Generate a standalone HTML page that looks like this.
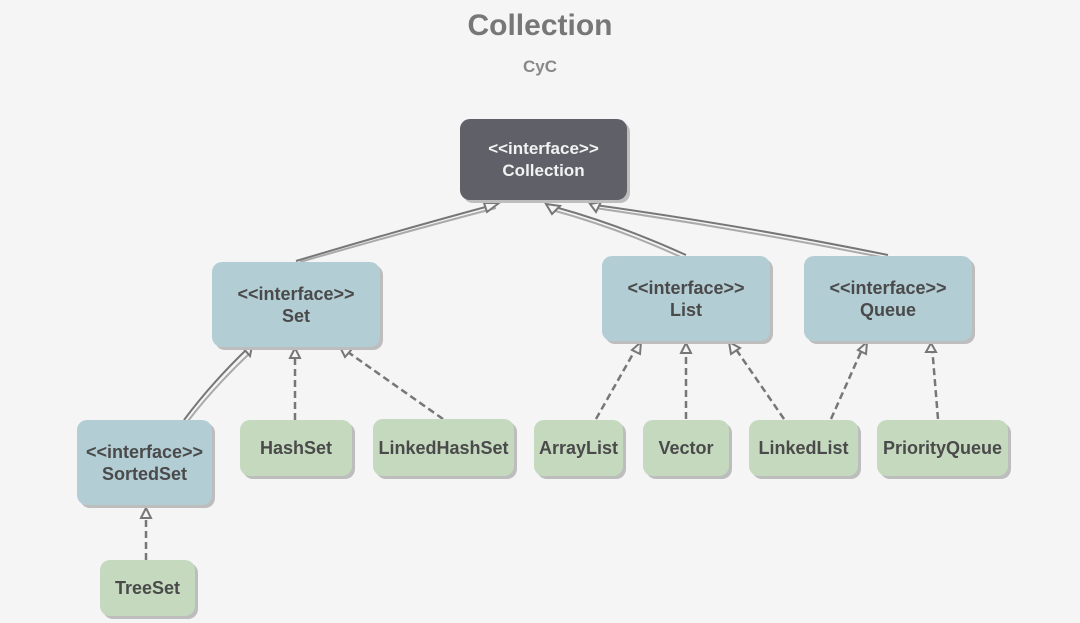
<!DOCTYPE html>
<html><head><meta charset="utf-8"><style>
body{margin:0;width:1080px;height:623px;background:#f5f5f5;position:relative;overflow:hidden;font-family:"Liberation Sans","DejaVu Sans",sans-serif}
.b{position:absolute;border-radius:10px;display:flex;align-items:center;justify-content:center;text-align:center;font-weight:bold;font-size:18px;color:#4a4a4a;box-shadow:3px 3px 0 #bdbdbd;line-height:22px;box-sizing:border-box}
.i{background:#b3cdd4}.g{background:#c5d9bf}.d{background:#5f6068;color:#f2f2f2;font-size:17px}
.t{position:absolute;width:1080px;text-align:center;color:#777;font-weight:bold}
</style></head><body>
<div class="t" style="top:9px;font-size:30px">Collection</div>
<div class="t" style="top:57px;font-size:17px;color:#888">CyC</div>
<svg width="1080" height="623" style="position:absolute;left:0;top:0">
<g fill="none" stroke="#777" stroke-width="2">
<path d="M296 261 Q400 230 493 205"/><path d="M300 262 Q404 232 496 208" stroke="#aaa"/>
<path d="M686 255 Q620 225 555 207"/><path d="M683 258 Q618 228 552 210" stroke="#aaa"/>
<path d="M888 255 Q740 225 595 205"/><path d="M886 258 Q740 229 595 208" stroke="#aaa"/>
<path d="M184 420 Q210 385 246 350"/><path d="M188 421 Q214 387 250 353" stroke="#aaa"/>
<g stroke-dasharray="7,4" stroke-width="2.5">
<path d="M295 420 L295 352"/>
<path d="M443 419 L345 350"/>
<path d="M146 560 L146 512"/>
<path d="M596 419 L638 345"/>
<path d="M686 419 L686 346"/>
<path d="M784 419 L733 345"/>
<path d="M831 419 L864 345"/>
<path d="M938 419 L932 346"/>
</g></g>
<g fill="#f5f5f5" stroke="#777" stroke-width="2">
<path d="M487 212 L499 203 L484 203Z"/>
<path d="M546 204 L560 206 L552 214Z"/>
<path d="M590 204 L601 202 L596 212Z"/>
<path d="M244 349 L252 346 L250 356Z"/>
<path d="M290 358 L295 348 L300 358Z"/>
<path d="M340 347 L352 349 L345 357Z"/>
<path d="M141 518 L146 508 L151 518Z"/>
<path d="M632 350 L641 342 L640 354Z"/>
<path d="M681 353 L686 343 L691 353Z"/>
<path d="M729 342 L740 348 L731 354Z"/>
<path d="M858 350 L867 342 L866 354Z"/>
<path d="M926 352 L931 343 L936 352Z"/>
</g></svg>
<div class="b d" style="left:460px;top:119px;width:167px;height:81px">&lt;&lt;interface&gt;&gt;<br>Collection</div>
<div class="b i" style="left:212px;top:262px;width:168px;height:85px">&lt;&lt;interface&gt;&gt;<br>Set</div>
<div class="b i" style="left:602px;top:256px;width:168px;height:85px">&lt;&lt;interface&gt;&gt;<br>List</div>
<div class="b i" style="left:804px;top:256px;width:168px;height:85px">&lt;&lt;interface&gt;&gt;<br>Queue</div>
<div class="b i" style="left:77px;top:420px;width:135px;height:85px">&lt;&lt;interface&gt;&gt;<br>SortedSet</div>
<div class="b g" style="left:240px;top:420px;width:112px;height:56px">HashSet</div>
<div class="b g" style="left:373px;top:419px;width:141px;height:57px">LinkedHashSet</div>
<div class="b g" style="left:534px;top:420px;width:89px;height:56px">ArrayList</div>
<div class="b g" style="left:643px;top:420px;width:86px;height:56px">Vector</div>
<div class="b g" style="left:749px;top:420px;width:109px;height:56px">LinkedList</div>
<div class="b g" style="left:877px;top:420px;width:131px;height:56px">PriorityQueue</div>
<div class="b g" style="left:100px;top:560px;width:95px;height:56px">TreeSet</div>
</body></html>
